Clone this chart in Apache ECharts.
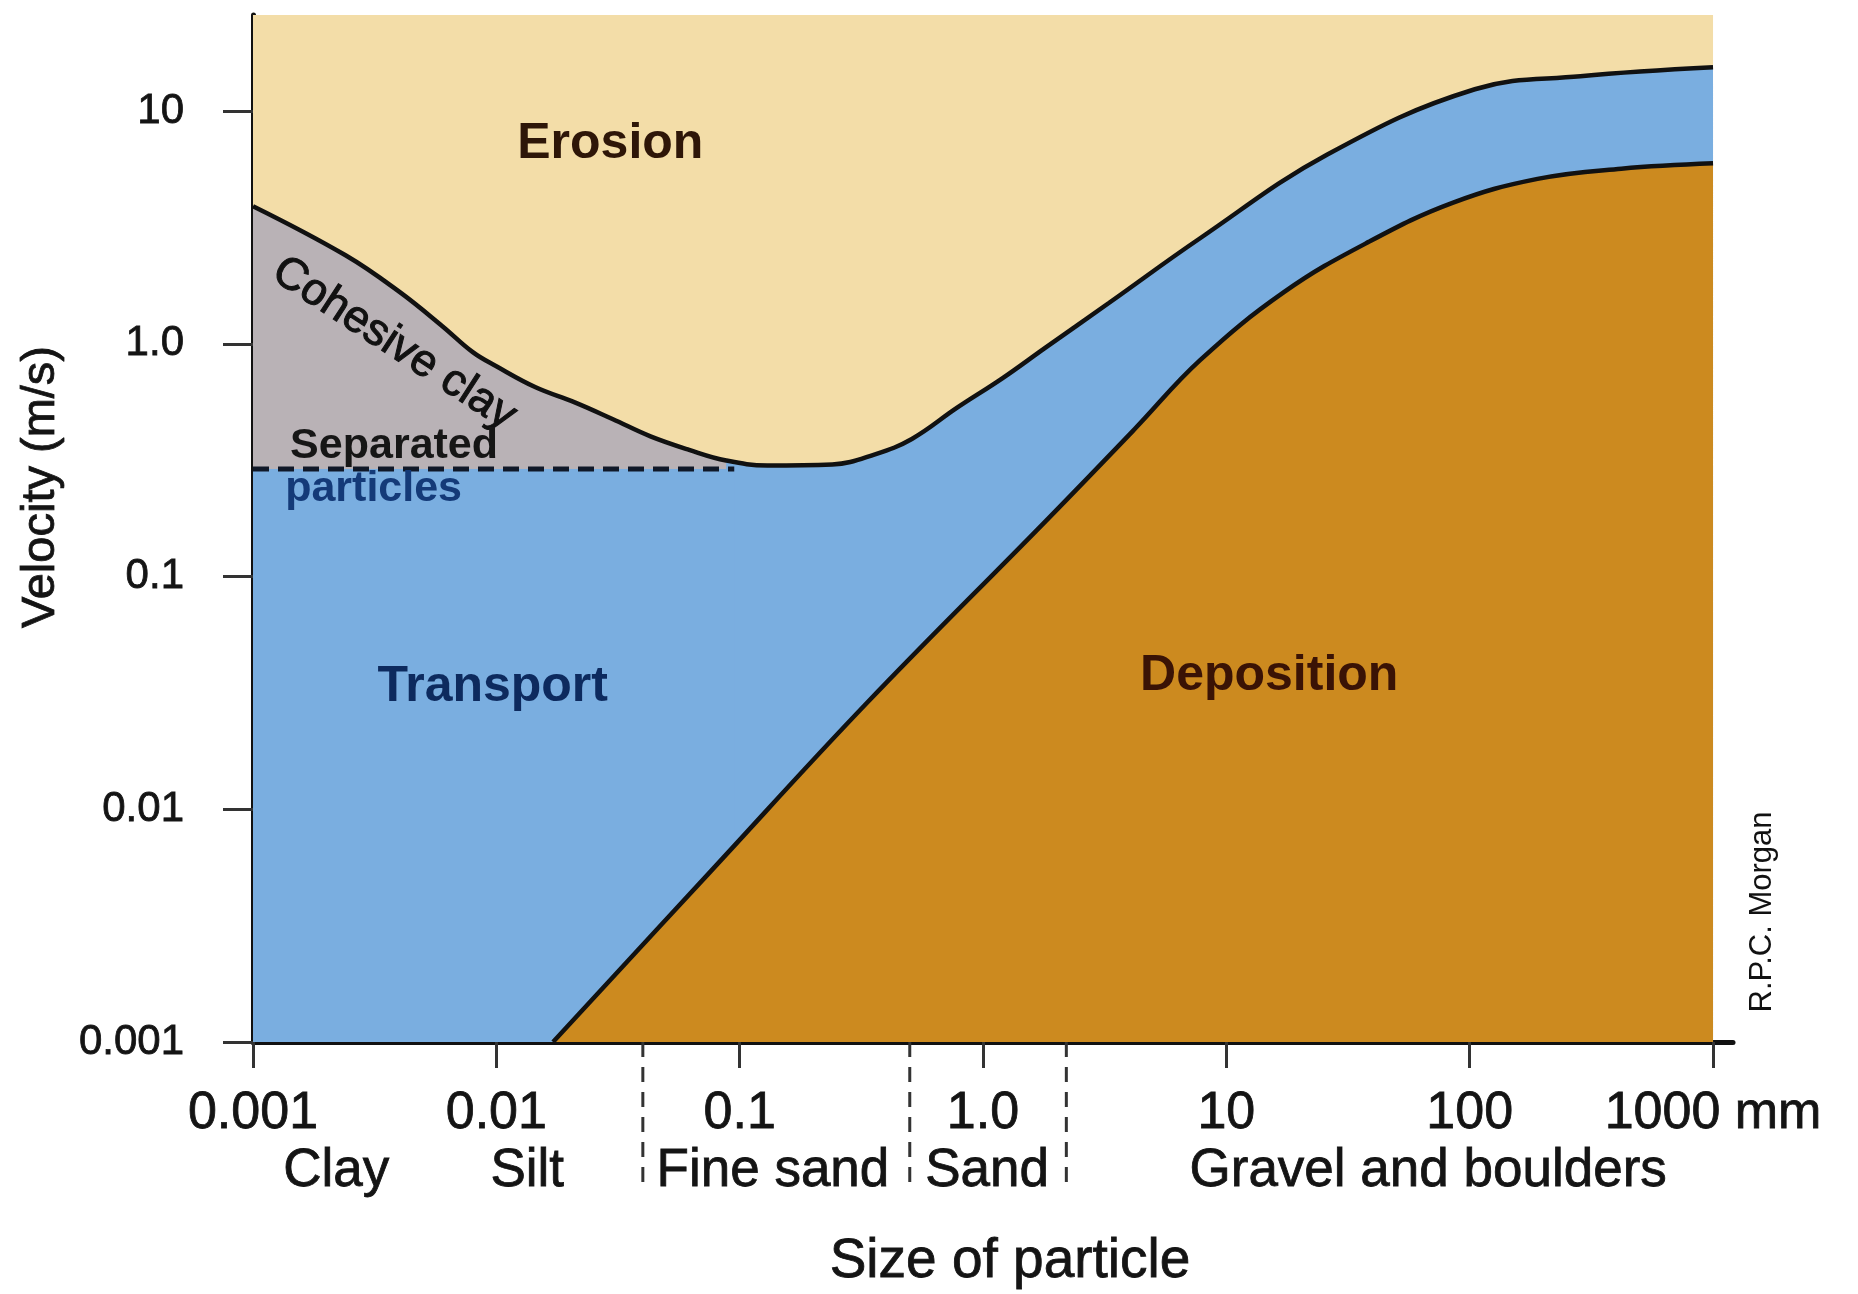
<!DOCTYPE html>
<html>
<head>
<meta charset="utf-8">
<title>Erosion, transport and deposition of particles</title>
<script src="https://cdn.jsdelivr.net/npm/echarts@6/dist/echarts.min.js"></script>
<style>
  html, body { margin: 0; padding: 0; background: #ffffff; }
  #chart { width: 1858px; height: 1294px; }
</style>
</head>
<body>
<div id="chart"></div>
<script>
// Critical erosion velocity (m/s) against particle size (mm)
const erosionSize = [0.001, 0.0024, 0.004, 0.006, 0.008, 0.01, 0.0145, 0.021, 0.03, 0.043, 0.062, 0.088,
                     0.13, 0.24, 0.36, 0.51, 0.78, 1.2, 1.8, 3.3, 7.8, 26, 105, 285, 1000];
const erosionVelocity = [3.9, 2.4, 1.67, 1.19, 0.92, 0.8, 0.65, 0.56, 0.475, 0.4, 0.35, 0.315,
                         0.3, 0.303, 0.335, 0.39, 0.53, 0.71, 0.96, 1.5, 2.84, 6.5, 12.4, 14.1, 15.4];

// Settling (deposition) velocity (m/s) against particle size (mm)
const depositionSize = [0.0171, 0.0755, 0.333, 1.81, 4.2, 7.8, 17.3, 38.5, 85.5, 190, 420, 1000];
const depositionVelocity = [0.001, 0.00537, 0.0286, 0.173, 0.43, 0.85, 1.67, 2.74, 4.04, 5.11, 5.65, 5.96];

// Boundary between cohesive clay and separated particles
const separatedSize = [0.001, 0.095];
const separatedVelocity = [0.29, 0.29];

// Axis ticks
const xTickValues = [0.001, 0.01, 0.1, 1, 10, 100, 1000];
const xTickLabels = ['0.001', '0.01', '0.1', '1.0', '10', '100', '1000 mm'];
const yTickValues = [0.001, 0.01, 0.1, 1, 10];
const yTickLabels = ['0.001', '0.01', '0.1', '1.0', '10'];

// Particle size classes under the size axis
const sizeClassNames = ['Clay', 'Silt', 'Fine sand', 'Sand', 'Gravel and boulders'];
const sizeClassCenters = [0.0022, 0.0134, 0.137, 1.04, 67.5];
const sizeClassBounds = [0.04, 0.5, 2.2];

// Zone names and where they sit (size mm, velocity m/s)
const zoneNames = ['Erosion', 'Transport', 'Deposition', 'Cohesive clay', 'Separated', 'particles'];
const zoneSize = [0.0294, 0.00966, 15, 0.0038, 0.0038, 0.00313];
const zoneVelocity = [7.2, 0.0333, 0.0374, 1.0, 0.3626, 0.237];

// ---------------------------------------------------------------------------
const FONT = '"Liberation Sans", Arial, Helvetica, sans-serif';
const X_MIN = 0.001, X_MAX = 1208;
const Y_MIN = 0.001, Y_MAX = 25.85;
const SMOOTH = 0.4;

const COLORS = {
  erosion: '#f3dda8',
  transport: '#7aaee0',
  cohesive: '#b9b2b6',
  deposition: '#cc8a1f',
  line: '#111111',
  text: '#141414'
};

const zoneStyles = {
  'Erosion':       { fontSize: 50, fontWeight: 'bold', color: '#2e1608' },
  'Transport':     { fontSize: 50, fontWeight: 'bold', color: '#0d2a5e' },
  'Deposition':    { fontSize: 50, fontWeight: 'bold', color: '#3a1305' },
  'Cohesive clay': { fontSize: 45, fontWeight: 'normal', color: '#111111', rotate: -33, border: 1 },
  'Separated':     { fontSize: 43, fontWeight: 'bold', color: '#161616' },
  'particles':     { fontSize: 43, fontWeight: 'bold', color: '#143a78' }
};

function pairs(xs, ys) { return xs.map((x, i) => [x, ys[i]]); }
function tickText(values, labels) {
  return function (v) {
    const i = values.findIndex(t => Math.abs(Math.log10(t) - Math.log10(v)) < 1e-6);
    return i >= 0 ? labels[i] : '';
  };
}

const erosionCurve = pairs(erosionSize, erosionVelocity);
const cohesiveCurve = erosionCurve.filter(p => p[0] <= separatedSize[1]);
const depositionCurve = pairs(depositionSize, depositionVelocity);
const separatedLine = pairs(separatedSize, separatedVelocity);
const plotTop = [[X_MIN, Y_MAX], [xTickValues[xTickValues.length - 1], Y_MAX]];

function areaSeries(name, data, color, z, smooth) {
  return {
    name, type: 'line', data, z, symbol: 'none', silent: true,
    smooth: smooth ? SMOOTH : false,
    lineStyle: { width: 0, opacity: 0 },
    areaStyle: { color, opacity: 1, origin: 'start' }
  };
}
function strokeSeries(name, data, z) {
  return {
    name, type: 'line', data, z, symbol: 'none', silent: true,
    smooth: SMOOTH,
    lineStyle: { color: COLORS.line, width: 4.5 }
  };
}

const series = [
  areaSeries('Erosion', plotTop, COLORS.erosion, 1, false),
  areaSeries('Transport', erosionCurve, COLORS.transport, 2, true),
  areaSeries('Cohesive clay', cohesiveCurve, COLORS.cohesive, 3, true),
  {
    name: 'Separated particles', type: 'line', data: separatedLine, z: 4,
    symbol: 'none', silent: true,
    lineStyle: { color: '#101828', width: 5, type: [16, 9] },
    areaStyle: { color: COLORS.transport, opacity: 1, origin: 'start' }
  },
  areaSeries('Deposition', depositionCurve, COLORS.deposition, 5, true),
  strokeSeries('Erosion velocity', erosionCurve, 6),
  strokeSeries('Settling velocity', depositionCurve, 6),
  {
    name: 'Zones', type: 'scatter', z: 10, silent: true,
    symbolSize: 1, itemStyle: { color: 'rgba(0,0,0,0)', opacity: 1 },
    data: zoneNames.map((n, i) => {
      const s = zoneStyles[n];
      return {
        name: n, value: [zoneSize[i], zoneVelocity[i]],
        label: {
          show: true, position: 'inside', formatter: n, fontFamily: FONT, opacity: 1,
          fontSize: s.fontSize, fontWeight: s.fontWeight, color: s.color, rotate: s.rotate || 0,
          textBorderColor: s.color, textBorderWidth: s.border || 0
        }
      };
    })
  },
  // size class dividers below the axis
  ...sizeClassBounds.map(b => ({
    name: 'Class boundary ' + b, type: 'line', xAxisIndex: 1, yAxisIndex: 1,
    data: [[b, 1], [b, 0]], symbol: 'none', silent: true,
    lineStyle: { color: '#333333', width: 3, type: [15, 10] }
  })),
  {
    name: 'Size classes', type: 'scatter', xAxisIndex: 1, yAxisIndex: 1, silent: true,
    symbolSize: 1, itemStyle: { color: 'rgba(0,0,0,0)', opacity: 1 },
    data: sizeClassNames.map((n, i) => ({ name: n, value: [sizeClassCenters[i], 0.14] })),
    label: {
      show: true, position: 'inside', formatter: p => p.name, opacity: 1,
      fontFamily: FONT, fontSize: 53, color: COLORS.text,
      textBorderColor: COLORS.text, textBorderWidth: 0.8
    }
  }
];

const option = {
  animation: false,
  backgroundColor: '#ffffff',
  textStyle: { fontFamily: FONT },
  grid: [
    { left: 253, top: 15, width: 1480, height: 1027, outerBoundsMode: 'none' },
    { left: 253, top: 1042, width: 1480, height: 150, outerBoundsMode: 'none' }
  ],
  xAxis: [
    {
      type: 'log', logBase: 10, gridIndex: 0, min: X_MIN, max: X_MAX,
      axisLine: { show: true, onZero: false, lineStyle: { color: '#111111', width: 5 } },
      axisTick: { show: true, length: 26, customValues: xTickValues, lineStyle: { color: '#333333', width: 3 } },
      axisLabel: {
        show: true, customValues: xTickValues, formatter: tickText(xTickValues, xTickLabels),
        margin: 46, fontSize: 52, color: COLORS.text, fontFamily: FONT,
        textBorderColor: COLORS.text, textBorderWidth: 0.8
      },
      splitLine: { show: false }, minorTick: { show: false }, minorSplitLine: { show: false }
    },
    {
      type: 'log', logBase: 10, gridIndex: 1, min: X_MIN, max: X_MAX, show: false,
      splitLine: { show: false }
    }
  ],
  yAxis: [
    {
      type: 'log', logBase: 10, gridIndex: 0, min: Y_MIN, max: Y_MAX,
      axisLine: { show: true, onZero: false, lineStyle: { color: '#111111', width: 5 } },
      axisTick: { show: true, length: 30, customValues: yTickValues, lineStyle: { color: '#333333', width: 3 } },
      axisLabel: {
        show: true, customValues: yTickValues, formatter: tickText(yTickValues, yTickLabels),
        margin: 69, fontSize: 42, color: COLORS.text, fontFamily: FONT,
        textBorderColor: COLORS.text, textBorderWidth: 0.8
      },
      splitLine: { show: false }, minorTick: { show: false }, minorSplitLine: { show: false }
    },
    {
      type: 'value', gridIndex: 1, min: 0, max: 1, show: false, splitLine: { show: false }
    }
  ],
  graphic: [
    {
      type: 'text', x: 41, y: 487, rotation: Math.PI / 2, silent: true,
      style: { text: 'Velocity (m/s)', fontFamily: FONT, fontSize: 47, fill: COLORS.text, align: 'center', verticalAlign: 'middle',
               stroke: COLORS.text, lineWidth: 0.8 }
    },
    {
      type: 'text', x: 1010, y: 1262, silent: true,
      style: { text: 'Size of particle', fontFamily: FONT, fontSize: 55, fill: COLORS.text, align: 'center', verticalAlign: 'middle',
               stroke: COLORS.text, lineWidth: 0.8 }
    },
    {
      type: 'text', x: 1762, y: 912, rotation: Math.PI / 2, silent: true,
      style: { text: 'R.P.C. Morgan', fontFamily: FONT, fontSize: 31, fill: '#111111', align: 'center', verticalAlign: 'middle' }
    }
  ],
  series
};

const chart = echarts.init(document.getElementById('chart'), null, { renderer: 'canvas', width: 1858, height: 1294 });
chart.setOption(option);
</script>
</body>
</html>
